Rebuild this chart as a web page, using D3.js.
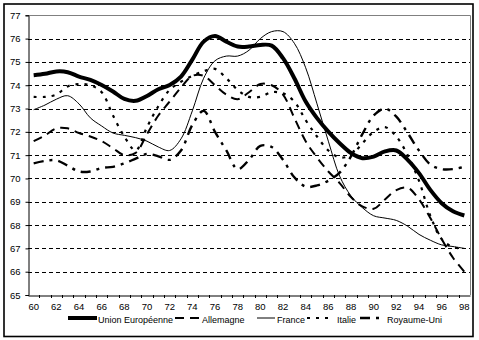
<!DOCTYPE html>
<html><head><meta charset="utf-8">
<script src="https://d3js.org/d3.v7.min.js"></script>
<style>body{margin:0;background:#fff}svg text{font-family:Arial,"Liberation Sans",sans-serif;fill:#000}</style>
</head><body><svg id="c" width="479" height="340"></svg>
<script>
const years = d3.range(60, 99);
const yearLabels = ["60","62","64","66","68","70","72","74","76","78","80","82","84","86","88","90","92","94","96","98"];
const yTicks = [65,66,67,68,69,70,71,72,73,74,75,76,77];
const seriesNames = ["Union Européenne","Allemagne","France","Italie","Royaume-Uni"];
const ue = [74.43,74.49,74.59,74.56,74.37,74.23,74.01,73.73,73.41,73.33,73.54,73.83,74.01,74.37,75.1,75.87,76.11,75.87,75.66,75.66,75.73,75.7,75.16,74.3,73.3,72.59,72.01,71.51,71.09,70.87,70.94,71.16,71.2,70.8,70.23,69.51,68.94,68.59,68.41];
const allemagne = [71.6,71.85,72.15,72.15,71.95,71.8,71.6,71.3,71.0,71.1,71.9,72.7,73.3,73.9,74.4,74.4,74.0,73.6,73.4,73.7,74.05,74.0,73.6,72.6,71.6,70.9,70.3,69.8,69.2,68.8,68.7,69.1,69.5,69.6,69.1,68.3,67.4,66.6,66.0];
const france = [72.95,73.15,73.4,73.55,73.2,72.6,72.25,71.95,71.85,71.75,71.6,71.35,71.2,71.7,72.9,74.3,75.05,75.25,75.25,75.5,76.0,76.3,76.3,75.8,74.75,73.2,71.6,70.1,69.25,68.75,68.4,68.3,68.2,67.95,67.6,67.35,67.15,67.08,67.0];
const italie = [73.5,73.5,73.6,73.95,74.05,74.0,73.7,72.7,71.8,71.2,72.2,73.1,73.8,74.15,74.4,74.6,74.7,74.3,73.8,73.5,73.5,73.7,73.65,73.3,72.5,71.8,71.2,70.9,71.0,71.5,72.0,72.2,71.8,71.0,69.9,68.4,67.4,67.05,67.0];
const royaumeUni = [70.65,70.75,70.78,70.55,70.3,70.3,70.45,70.5,70.65,70.85,71.05,70.95,70.8,71.2,72.3,72.9,72.0,71.2,70.4,70.8,71.4,71.35,70.8,70.05,69.65,69.7,69.9,70.25,70.95,71.9,72.7,73.0,72.65,71.95,71.2,70.6,70.4,70.4,70.5];

const data = [ue, allemagne, france, italie, royaumeUni];
const styles = [
  {w:4, dash:null},
  {w:2, dash:"9,6"},
  {w:1, dash:null},
  {w:2.2, dash:"3,6"},
  {w:2.4, dash:"10,6,3,6"}
];

const svg = d3.select("#c");
const L = 28, T = 15.3, R = 470, B = 295;
const x = d3.scaleBand().domain(years).range([L, R]);
const y = d3.scaleLinear().domain([65, 77]).range([B, T]);
const cx = d => x(d) + x.bandwidth()/2;

// outer frame
svg.append("rect").attr("x",4).attr("y",4).attr("width",469).attr("height",332.5)
  .attr("fill","none").attr("stroke","#000").attr("stroke-width",1.6);

// gridlines
svg.append("g").selectAll("line").data(yTicks.filter(v => v > 65 && v < 77)).join("line")
  .attr("x1", L).attr("x2", R).attr("y1", d => Math.round(y(d))+0.5).attr("y2", d => Math.round(y(d))+0.5)
  .attr("stroke","#000").attr("stroke-width",1).attr("stroke-dasharray","4,3");

// plot border top/right gray
svg.append("path").attr("d", `M${L},${Math.round(T)+0.5}H${R+0.5}V${B}`)
  .attr("fill","none").attr("stroke","#808080").attr("stroke-width",1);

// y axis
const yAxis = d3.axisLeft(y).tickValues(yTicks).tickSize(3).tickPadding(5).tickFormat(d3.format("d"));
const gy = svg.append("g").attr("transform",`translate(${L+0.5},0)`).call(yAxis);
gy.select(".domain").attr("stroke","#000");
gy.selectAll("text").style("font-size","9.5px");

// x axis
const xAxis = d3.axisBottom(x).tickValues(years.filter(d => d % 2 === 0)).tickSize(0).tickPadding(8)
  .tickFormat((d,i) => yearLabels[i]);
const gx = svg.append("g").attr("transform",`translate(0,${B+0.5})`).call(xAxis);
gx.select(".domain").attr("stroke","#000");
gx.selectAll("text").style("font-size","9.5px");
// minor ticks between categories
svg.append("g").selectAll("line").data(years.slice(1)).join("line")
  .attr("x1", d => Math.round(x(d))+0.5).attr("x2", d => Math.round(x(d))+0.5)
  .attr("y1", B).attr("y2", B+3).attr("stroke","#000");

// lines
const line = d3.line().x((d,i) => cx(years[i])).y(d => y(d)).curve(d3.curveCatmullRom.alpha(0.5));
data.forEach((s, k) => {
  svg.append("path").datum(s).attr("d", line).attr("fill","none").attr("stroke","#000")
    .attr("stroke-width", styles[k].w).attr("stroke-dasharray", styles[k].dash)
    .attr("stroke-linejoin","round");
});

// legend
const leg = [
  {x1:68, x2:97, tx:98},
  {x1:175, x2:200, tx:202},
  {x1:257, x2:275, tx:277},
  {x1:307, x2:330, tx:337},
  {x1:360, x2:382, tx:387}
];
const lg = svg.append("g");
seriesNames.forEach((n, k) => {
  lg.append("line").attr("x1", leg[k].x1).attr("x2", leg[k].x2).attr("y1",318).attr("y2",318)
    .attr("stroke","#000").attr("stroke-width", styles[k].w).attr("stroke-dasharray", styles[k].dash);
  lg.append("text").attr("x", leg[k].tx).attr("y", 323).style("font-size","9px").text(n);
});
</script></body></html>
